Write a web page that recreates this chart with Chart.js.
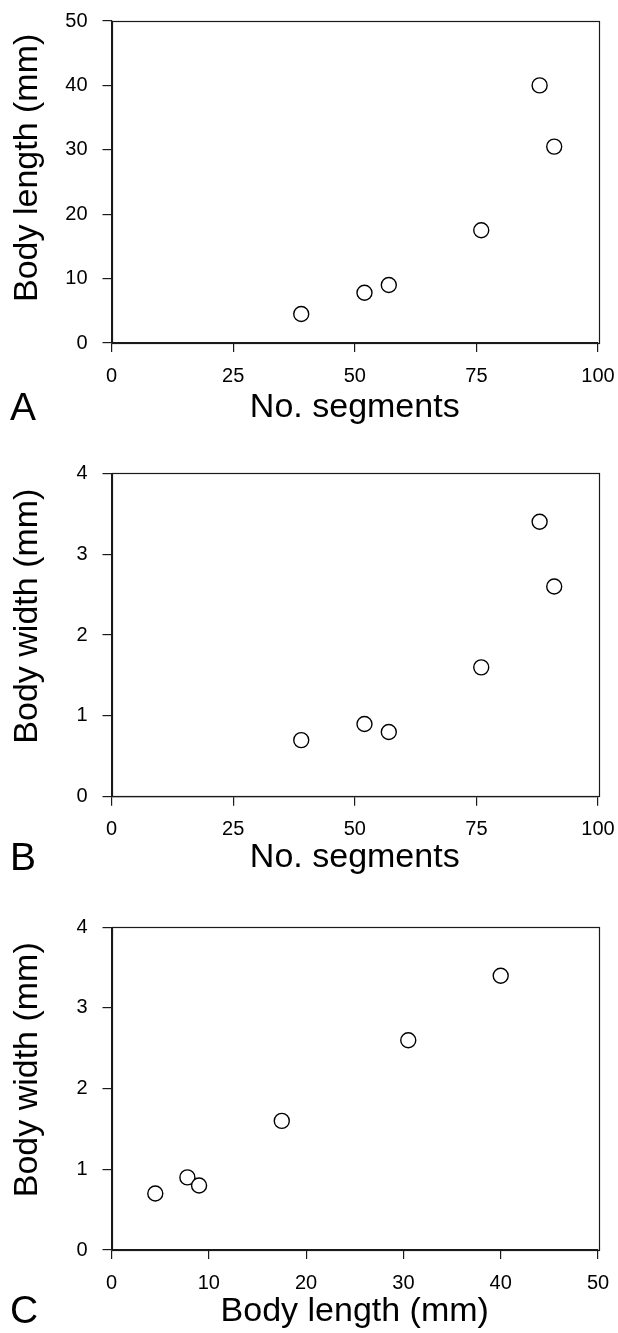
<!DOCTYPE html>
<html>
<head>
<meta charset="utf-8">
<script src="https://cdn.jsdelivr.net/npm/chart.js@4.4.1/dist/chart.umd.min.js"></script>
<style>
  html, body { margin: 0; padding: 0; background: #fff; }
  body { position: relative; width: 618px; height: 1333px; overflow: hidden; }
  canvas { position: absolute; left: 0; }
</style>
</head>
<body>
<canvas id="panelA" width="618" height="440" style="top:0"></canvas>
<canvas id="panelB" width="618" height="450" style="top:440px"></canvas>
<canvas id="panelC" width="618" height="443" style="top:890px"></canvas>
<script>
// six specimens, same order in every array
const segments = [39, 52, 57, 76, 88, 91];
const bodyLength = [4.5, 7.8, 9, 17.5, 40, 30.5];
const bodyWidth = [0.7, 0.9, 0.8, 1.6, 3.4, 2.6];

const segmentTicks = [0, 25, 50, 75, 100];
const lengthTicks = [0, 10, 20, 30, 40, 50];
const widthTicks = [0, 1, 2, 3, 4];

const FONT = '"Liberation Sans", Arial, Helvetica, sans-serif';
const INK = '#1a1a1a';
Chart.defaults.font.family = FONT;
Chart.defaults.color = '#000';

// box round the plot (top and right sides aren't axes)
const frame = {
  id: 'frame',
  beforeDatasetsDraw(chart) {
    const { ctx, chartArea: { left, top, right, bottom } } = chart;
    ctx.save();
    ctx.strokeStyle = INK;
    ctx.lineWidth = 1.2;
    ctx.strokeRect(Math.round(left) + 0.5, Math.round(top) + 0.5, Math.round(right - left), Math.round(bottom - top));
    ctx.restore();
  }
};

const panelLetter = {
  id: 'panelLetter',
  afterDraw(chart, args, opts) {
    const ctx = chart.ctx;
    ctx.save();
    ctx.font = `39px ${FONT}`;
    ctx.fillStyle = '#000';
    ctx.textBaseline = 'alphabetic';
    ctx.fillText(opts.text, 10, opts.y);
    ctx.restore();
  }
};

function axis(ticks, extra) {
  return {
    type: 'linear',
    min: ticks[0],
    max: ticks[ticks.length - 1],
    afterBuildTicks: (scale) => { scale.ticks = ticks.map(value => ({ value })); },
    border: { display: true, color: INK, width: 1.2 },
    grid: { display: true, drawOnChartArea: false, drawTicks: true, tickLength: 9, color: INK, lineWidth: 1.2 },
    ...extra,
  };
}

function makePanel(id, p) {
  const points = p.xs.map((x, i) => ({ x, y: p.ys[i] }));

  new Chart(document.getElementById(id), {
    type: 'scatter',
    data: {
      datasets: [{
        data: points,
        pointRadius: 7.5,
        pointBorderWidth: 1.4,
        pointBorderColor: '#000',
        pointBackgroundColor: '#fff',
      }]
    },
    options: {
      responsive: false,
      animation: false,
      events: [],
      layout: { padding: { top: p.top, right: 20, left: 0, bottom: 0 } },
      plugins: {
        legend: { display: false },
        tooltip: { enabled: false },
        panelLetter: { text: p.letter, y: p.letterY },
      },
      scales: {
        x: axis(p.xTicks, {
          afterFit: (s) => { s.height = p.xBox; s.paddingLeft = 0; s.paddingRight = 0; },
          ticks: { font: { size: 20 }, color: '#000', padding: 12 },
          title: { display: true, text: p.xTitle, font: { size: 34 }, color: '#000', padding: { top: 0, bottom: p.xTitlePad } },
        }),
        y: axis(p.yTicks, {
          afterFit: (s) => { s.width = 111.5; s.paddingTop = 0; s.paddingBottom = 0; },
          ticks: { font: { size: 20 }, color: '#000', padding: 15 },
          title: { display: true, text: p.yTitle, font: { size: 34 }, color: '#000', padding: { top: 7, bottom: 0 } },
        }),
      },
    },
    plugins: [frame, panelLetter],
  });
}

// leading spaces nudge the rotated titles up, as in the original figure
makePanel('panelA', {
  xs: segments, ys: bodyLength,
  xTicks: segmentTicks, yTicks: lengthTicks,
  xTitle: 'No. segments', yTitle: '\u00a0\u00a0\u00a0Body length (mm)',
  top: 21, xBox: 97, xTitlePad: 11.6,
  letter: 'A', letterY: 420,
});

makePanel('panelB', {
  xs: segments, ys: bodyWidth,
  xTicks: segmentTicks, yTicks: widthTicks,
  xTitle: 'No. segments', yTitle: '\u00a0\u00a0\u00a0\u00a0Body width (mm)',
  top: 33.3, xBox: 93.3, xTitlePad: 11.6,
  letter: 'B', letterY: 430,
});

makePanel('panelC', {
  xs: bodyLength, ys: bodyWidth,
  xTicks: lengthTicks, yTicks: widthTicks,
  xTitle: 'Body length (mm)', yTitle: '\u00a0\u00a0\u00a0\u00a0Body width (mm)',
  top: 37.3, xBox: 83, xTitlePad: 1,
  letter: 'C', letterY: 432.5,
});
</script>
</body>
</html>
